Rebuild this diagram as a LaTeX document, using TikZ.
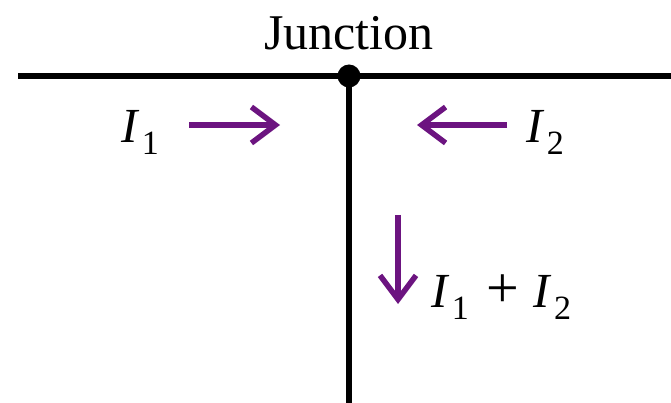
\documentclass[tikz,border=0pt]{standalone}
\usepackage{fontspec}
\setmainfont{Liberation Serif}
\usetikzlibrary{arrows.meta}
\definecolor{cpurple}{RGB}{108,20,128}
\newcommand\curr[1]{\textit{I}\kern0.05em\raisebox{-12pt}{\fontsize{34}{34}\selectfont #1}}
\begin{document}
\begin{tikzpicture}[x=1pt,y=-1pt,
  wire/.style={line width=6pt,black},
  flow/.style={line width=5.5pt,cpurple,-{Straight Barb[length=24pt,width=36pt,line width=5.5pt]}},
  lbl/.style={inner sep=0pt,anchor=base west,font=\fontsize{49}{56}\selectfont}]
\useasboundingbox (0,0) rectangle (671,403);
\coordinate (L) at (18,76);
\coordinate (R) at (671,76);
\coordinate (J) at (349,76);
\coordinate (B) at (349,403);
\draw[wire] (L) -- (R);
\draw[wire,line width=5.5pt] (J) -- (B);
\fill[black] (J) circle[radius=11.5];
\node[inner sep=0pt,anchor=base,font=\fontsize{50}{60}\selectfont] (jl) at (349,50) {Junction};
\coordinate (a1s) at (189,125); \coordinate (a1e) at (280,125);
\coordinate (a2s) at (507,125); \coordinate (a2e) at (417,125);
\coordinate (a3s) at (398,215); \coordinate (a3e) at (398,304);
\draw[flow] (a1s) -- (a1e);
\draw[flow] (a2s) -- (a2e);
\draw[flow] (a3s) -- (a3e);
\node[lbl] (i1) at (121,143) {\curr{1}};
\node[lbl] (i2) at (526,143) {\curr{2}};
\node[lbl] (i3) at (431,307) {\curr{1}\hspace{0.35em}{\fontsize{58}{58}\selectfont +}\hspace{0.3em}\curr{2}};
\end{tikzpicture}
\end{document}
